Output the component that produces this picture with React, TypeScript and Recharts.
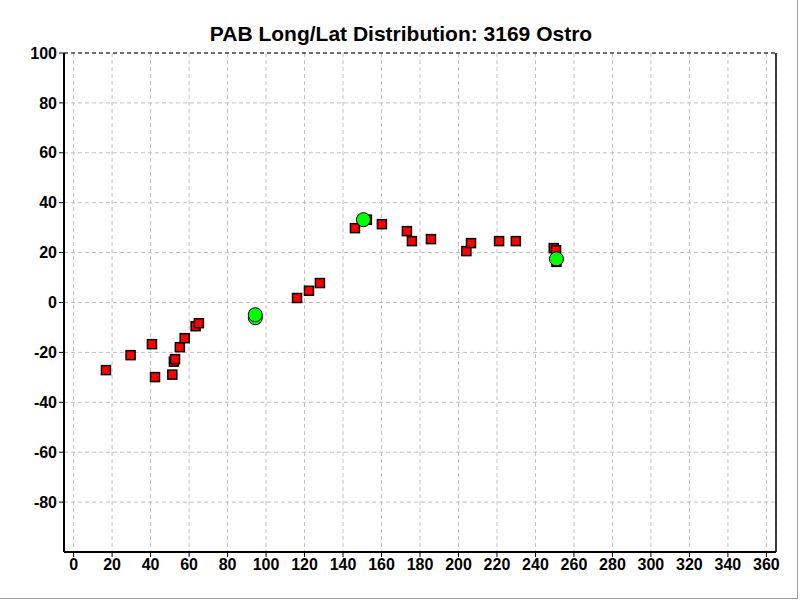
import React from 'react';
import {
    ScatterChart, Scatter, XAxis, YAxis, CartesianGrid, ReferenceLine,
} from 'recharts';

// red squares: longitude / latitude
const redLong = [
    16.8, 29.6, 40.7, 42.3, 51.3, 52.1, 52.7, 55.2, 57.7, 63.4, 65.1,
    116.1, 122.3, 128.0, 146.2, 152.4, 160.2, 173.2, 175.8, 185.7,
    204.1, 206.5, 221.1, 229.8, 249.5, 250.7, 250.9,
];
const redLat = [
    -27.1, -21.1, -16.7, -29.9, -28.9, -23.7, -22.7, -17.9, -14.3, -9.5, -8.3,
    1.8, 4.7, 7.8, 29.8, 33.2, 31.4, 28.6, 24.6, 25.4,
    20.6, 23.8, 24.6, 24.6, 21.8, 20.9, 16.3,
];

// green circles
const greenLong = [94.4, 94.4, 150.6, 250.9];
const greenLat = [-6.1, -4.9, 33.2, 17.5];

const xTicks = [0, 20, 40, 60, 80, 100, 120, 140, 160, 180, 200, 220, 240, 260, 280, 300, 320, 340, 360];
const yTicks = [100, 80, 60, 40, 20, 0, -20, -40, -60, -80];

const redData = redLong.map((x, i) => ({ x, y: redLat[i] }));
const greenData = greenLong.map((x, i) => ({ x, y: greenLat[i] }));

const font = "Arial, 'Liberation Sans', sans-serif";
const tickStyle = { fontSize: 16, fontWeight: 700, fill: '#000', fontFamily: font };

const Square = (props: any) => {
    const { cx, cy } = props;
    return <rect x={cx - 4.5} y={cy - 4.5} width={9} height={9} fill="#ff0000" stroke="#000" strokeWidth={1.5} />;
};

const Dot = (props: any) => {
    const { cx, cy } = props;
    return <circle cx={cx} cy={cy} r={7} fill="#00ff00" stroke="#000" strokeWidth={1} />;
};

const App: React.FC = () => {
    return (
        <div style={{ position: 'absolute', left: 0, top: 0, width: 800, height: 600, background: '#fff' }}>
            <div style={{
                position: 'absolute', left: 0, top: 0, width: 798, height: 599,
                borderRight: '1px solid #a0a0a0', borderBottom: '1px solid #a0a0a0', boxSizing: 'border-box',
            }} />
            <div style={{
                position: 'absolute', left: 1, top: 22, width: 800, textAlign: 'center',
                fontFamily: font, fontWeight: 700, fontSize: 21, color: '#000', lineHeight: '24px',
            }}>
                PAB Long/Lat Distribution: 3169 Ostro
            </div>
            <div style={{ position: 'absolute', left: 0, top: 0 }}>
                <ScatterChart width={800} height={600} margin={{ top: 53, right: 24, bottom: 18, left: 0 }}>
                    <CartesianGrid stroke="#c0c0c0" strokeDasharray="4 3" />
                    <XAxis
                        type="number"
                        dataKey="x"
                        domain={[-5, 365]}
                        ticks={xTicks}
                        allowDataOverflow
                        height={30}
                        tickSize={5}
                        tick={tickStyle}
                        axisLine={{ stroke: '#000', strokeWidth: 2 }}
                        tickLine={{ stroke: '#000' }}
                    />
                    <YAxis
                        type="number"
                        dataKey="y"
                        domain={[-100, 100]}
                        ticks={yTicks}
                        allowDataOverflow
                        width={64}
                        tickSize={5}
                        tick={tickStyle}
                        axisLine={{ stroke: '#000', strokeWidth: 2 }}
                        tickLine={{ stroke: '#000' }}
                    />
                    <ReferenceLine y={100} stroke="#000" strokeDasharray="4 3" />
                    <ReferenceLine x={365} stroke="#000" strokeWidth={1.5} />
                    <Scatter data={redData} shape={Square} isAnimationActive={false} />
                    <Scatter data={greenData} shape={Dot} isAnimationActive={false} />
                </ScatterChart>
            </div>
        </div>
    );
};

export default App;
